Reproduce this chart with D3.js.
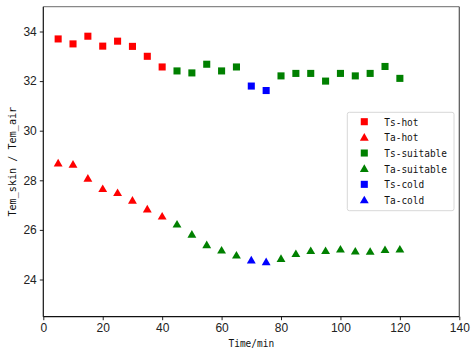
<!DOCTYPE html>
<html><head><meta charset="utf-8">
<script src="https://cdn.jsdelivr.net/npm/d3@7"></script>
<style>body{margin:0;background:#fff}svg{display:block}</style>
</head><body>
<script>
const tsHotX = [5,10,15,20,25,30,35,40];
const tsHotY = [33.70,33.50,33.81,33.41,33.61,33.40,33.00,32.57];
const taHotX = [5,10,15,20,25,30,35,40];
const taHotY = [28.69,28.64,28.08,27.66,27.50,27.19,26.84,26.55];
const tsSuitX = [45,50,55,60,65,80,85,90,95,100,105,110,115,120];
const tsSuitY = [32.41,32.33,32.68,32.41,32.57,32.21,32.31,32.31,32.00,32.31,32.21,32.31,32.59,32.11];
const taSuitX = [45,50,55,60,65,80,85,90,95,100,105,110,115,120];
const taSuitY = [26.23,25.82,25.40,25.18,24.98,24.84,25.04,25.16,25.16,25.22,25.14,25.13,25.20,25.22];
const tsColdX = [70,75];
const tsColdY = [31.80,31.62];
const taColdX = [70,75];
const taColdY = [24.78,24.71];
const xTicks = [0,20,40,60,80,100,120,140];
const yTicks = [24,26,28,30,32,34];
const seriesNames = ["Ts-hot","Ta-hot","Ts-suitable","Ta-suitable","Ts-cold","Ta-cold"];

const series = [
  {name:seriesNames[0], x:tsHotX, y:tsHotY, color:"#ff0000", shape:"square"},
  {name:seriesNames[1], x:taHotX, y:taHotY, color:"#ff0000", shape:"triangle"},
  {name:seriesNames[2], x:tsSuitX, y:tsSuitY, color:"#008000", shape:"square"},
  {name:seriesNames[3], x:taSuitX, y:taSuitY, color:"#008000", shape:"triangle"},
  {name:seriesNames[4], x:tsColdX, y:tsColdY, color:"#0000ff", shape:"square"},
  {name:seriesNames[5], x:taColdX, y:taColdY, color:"#0000ff", shape:"triangle"}
];

const W = 472, H = 355;
const m = {left:43.3, right:472-459.3, top:6.7, bottom:355-316.7};
const svg = d3.select("body").append("svg").attr("width",W).attr("height",H);
const x = d3.scaleLinear().domain([0,140]).range([m.left, W-m.right]);
const y = d3.scaleLinear().domain([22.5,35]).range([H-m.bottom, m.top]);

const tickFont = "'Liberation Sans Narrow','Liberation Sans',Arial,sans-serif";
const monoFont = "'DejaVu Sans Mono','Liberation Mono',monospace";
const charW = 5.7;

const xa = svg.append("g").attr("transform",`translate(0,${H-m.bottom})`)
  .call(d3.axisBottom(x).tickValues(xTicks).tickSize(3.5).tickPadding(3).tickSizeOuter(0));
const ya = svg.append("g").attr("transform",`translate(${m.left},0)`)
  .call(d3.axisLeft(y).tickValues(yTicks).tickSize(3.5).tickPadding(3).tickSizeOuter(0));
[xa,ya].forEach(a=>{
  a.select(".domain").remove();
  a.selectAll("text").attr("font-family",tickFont).attr("font-size",12).attr("fill","#222");
  a.selectAll("line").attr("stroke","#222");
});
// spines
svg.append("line").attr("x1",m.left).attr("x2",W-m.right).attr("y1",m.top).attr("y2",m.top).attr("stroke","#888").attr("stroke-width",1.2);
svg.append("line").attr("x1",W-m.right).attr("x2",W-m.right).attr("y1",m.top).attr("y2",H-m.bottom).attr("stroke","#555").attr("stroke-width",1.2);
svg.append("line").attr("x1",m.left).attr("x2",m.left).attr("y1",m.top).attr("y2",H-m.bottom).attr("stroke","#111").attr("stroke-width",1.2);
svg.append("line").attr("x1",m.left).attr("x2",W-m.right).attr("y1",H-m.bottom).attr("y2",H-m.bottom).attr("stroke","#111").attr("stroke-width",1.2);

const sq = d3.symbol().type(d3.symbolSquare).size(50);
const tri = d3.symbol().type(d3.symbolTriangle).size(34);
function pathFor(s){ return s.shape==="square" ? sq() : tri(); }

series.forEach(s=>{
  svg.append("g").selectAll("path").data(s.x.map((v,i)=>[v,s.y[i]])).join("path")
    .attr("d", pathFor(s))
    .attr("transform", d=>`translate(${x(d[0])},${y(d[1]) + (s.shape==="triangle"?0.8:0)})`)
    .attr("fill", s.color);
});

function monoText(sel, str, cw){
  return sel.attr("font-family",monoFont).attr("font-size",11).attr("fill","#111")
    .attr("textLength", str.length*cw).attr("lengthAdjust","spacingAndGlyphs").text(str);
}

// axis labels
monoText(svg.append("text").attr("x",(m.left+W-m.right)/2).attr("y",347).attr("text-anchor","middle"), "Time/min", charW);
monoText(svg.append("text").attr("transform",`translate(15.5,${(m.top+H-m.bottom)/2}) rotate(-90)`).attr("text-anchor","middle"), "Tem_skin / Tem_air", 6.1);

// legend
const lg = svg.append("g");
lg.append("rect").attr("x",347.3).attr("y",112.3).attr("width",106.7).attr("height",98.4)
  .attr("rx",2).attr("fill","#fff").attr("stroke","#d8d8d8").attr("stroke-width",1);
const rowY = d3.scaleLinear().domain([0,5]).range([121.7,200]);
series.forEach((s,i)=>{
  lg.append("path").attr("d", pathFor(s))
    .attr("transform",`translate(364.3,${rowY(i) + (s.shape==="triangle"?0.8:0)})`).attr("fill",s.color);
  monoText(lg.append("text").attr("x",384.3).attr("y",rowY(i)).attr("dy","0.35em"), s.name, charW);
});
</script>
</body></html>
